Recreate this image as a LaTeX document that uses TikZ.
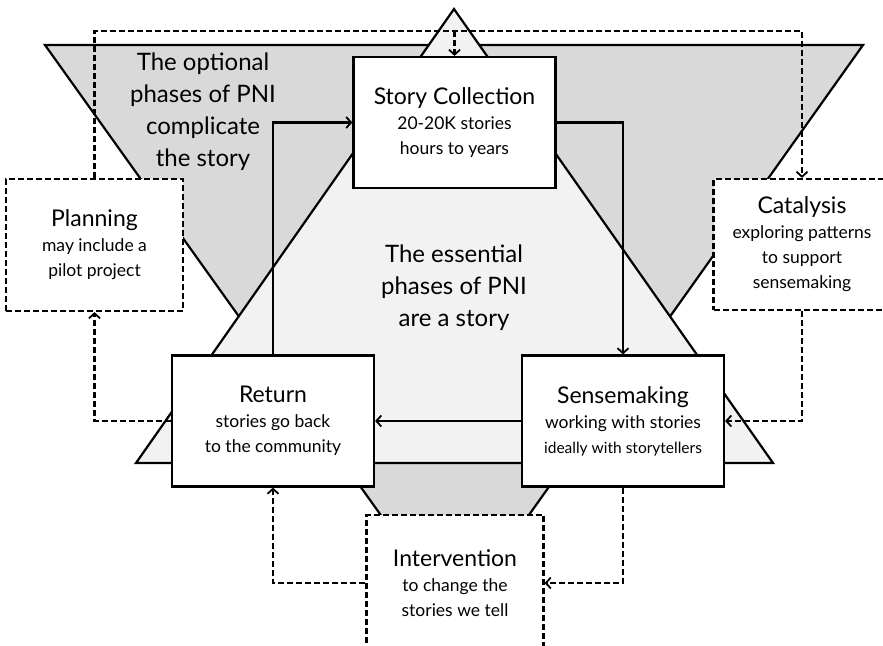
\documentclass[tikz,border=0pt]{standalone}
\usepackage{fontspec}
\setmainfont{Lato}
\usetikzlibrary{arrows.meta}
% type sizes for the phase boxes
\newcommand\phasetitle{\fontsize{23}{25}\selectfont}
\newcommand\phasenote{\fontsize{17.5}{25}\selectfont}
\newcommand\phasesmall{\fontsize{15.5}{25}\selectfont}
\newcommand\bigcaption{\fontsize{24}{32}\selectfont}
\definecolor{optgray}{HTML}{D9D9D9}
\definecolor{essgray}{HTML}{F2F2F2}
\begin{document}
\begin{tikzpicture}[x=1pt,y=-1pt,
  phase/.style={draw=black, line width=2.2pt, fill=white, align=center,
    minimum width=202pt, minimum height=131pt, inner sep=0pt, font=\phasenote},
  optphase/.style={phase, dash pattern=on 6pt off 3pt, minimum width=177pt},
  flow/.style={line width=2.2pt, -{Straight Barb[length=5pt,width=11pt,line width=1.8pt]}},
  optflow/.style={flow, dash pattern=on 6pt off 3pt},
  caption/.style={align=center, font=\bigcaption, inner sep=0pt}]
\useasboundingbox (0,0) rectangle (883,645);

% the optional phases: inverted triangle
\filldraw[fill=optgray, draw=black, line width=2.2pt, line join=miter]
  (45,45) -- (863,45) -- (455,619) -- cycle;
% the essential phases: upright triangle
\filldraw[fill=essgray, draw=black, line width=2.2pt, line join=miter]
  (454,9) -- (773,463) -- (136,463) -- cycle;

\node[caption] (optcap) at (203,112) {The optional\\phases of PNI\\complicate\\the story};
\node[caption] (esscap) at (454,288) {The essential\\phases of PNI\\are a story};

% phase boxes
\node[phase] (sc) at (454.5,122.5)
  {{\phasetitle Story Collection}\\20-20K stories\\hours to years};
\node[phase] (ret) at (273,421)
  {{\phasetitle Return}\\stories go back\\to the community};
\node[phase] (sm) at (623,421)
  {{\phasetitle Sensemaking}\\working with stories\\{\phasesmall ideally with storytellers}};
\node[optphase, minimum height=132pt] (plan) at (94.5,245)
  {{\phasetitle Planning}\\may include a\\pilot project};
\node[optphase, minimum height=131pt] (cat) at (802,244.5)
  {{\phasetitle Catalysis}\\exploring patterns\\to support\\sensemaking};
\node[optphase, minimum height=136pt] (iv) at (455,583)
  {{\phasetitle Intervention}\\to change the\\stories we tell};

\coordinate (topline) at (0,31);

% essential cycle
\draw[flow] (ret.north) |- (sc.west);
\draw[flow] (sc.east) -| (sm.north);
\draw[flow] (sm.west) -- (ret.east);

% optional links
\draw[optflow] (plan.north) |- (topline -| cat.north) -- (cat.north);
\draw[optflow] (topline -| sc.north) -- (sc.north);
\draw[optflow] (cat.south) |- (sm.east);
\draw[optflow] (sm.south) |- (iv.east);
\draw[optflow] (iv.west) -| (ret.south);
\draw[optflow] (ret.west) -| (plan.south);
\end{tikzpicture}
\end{document}
